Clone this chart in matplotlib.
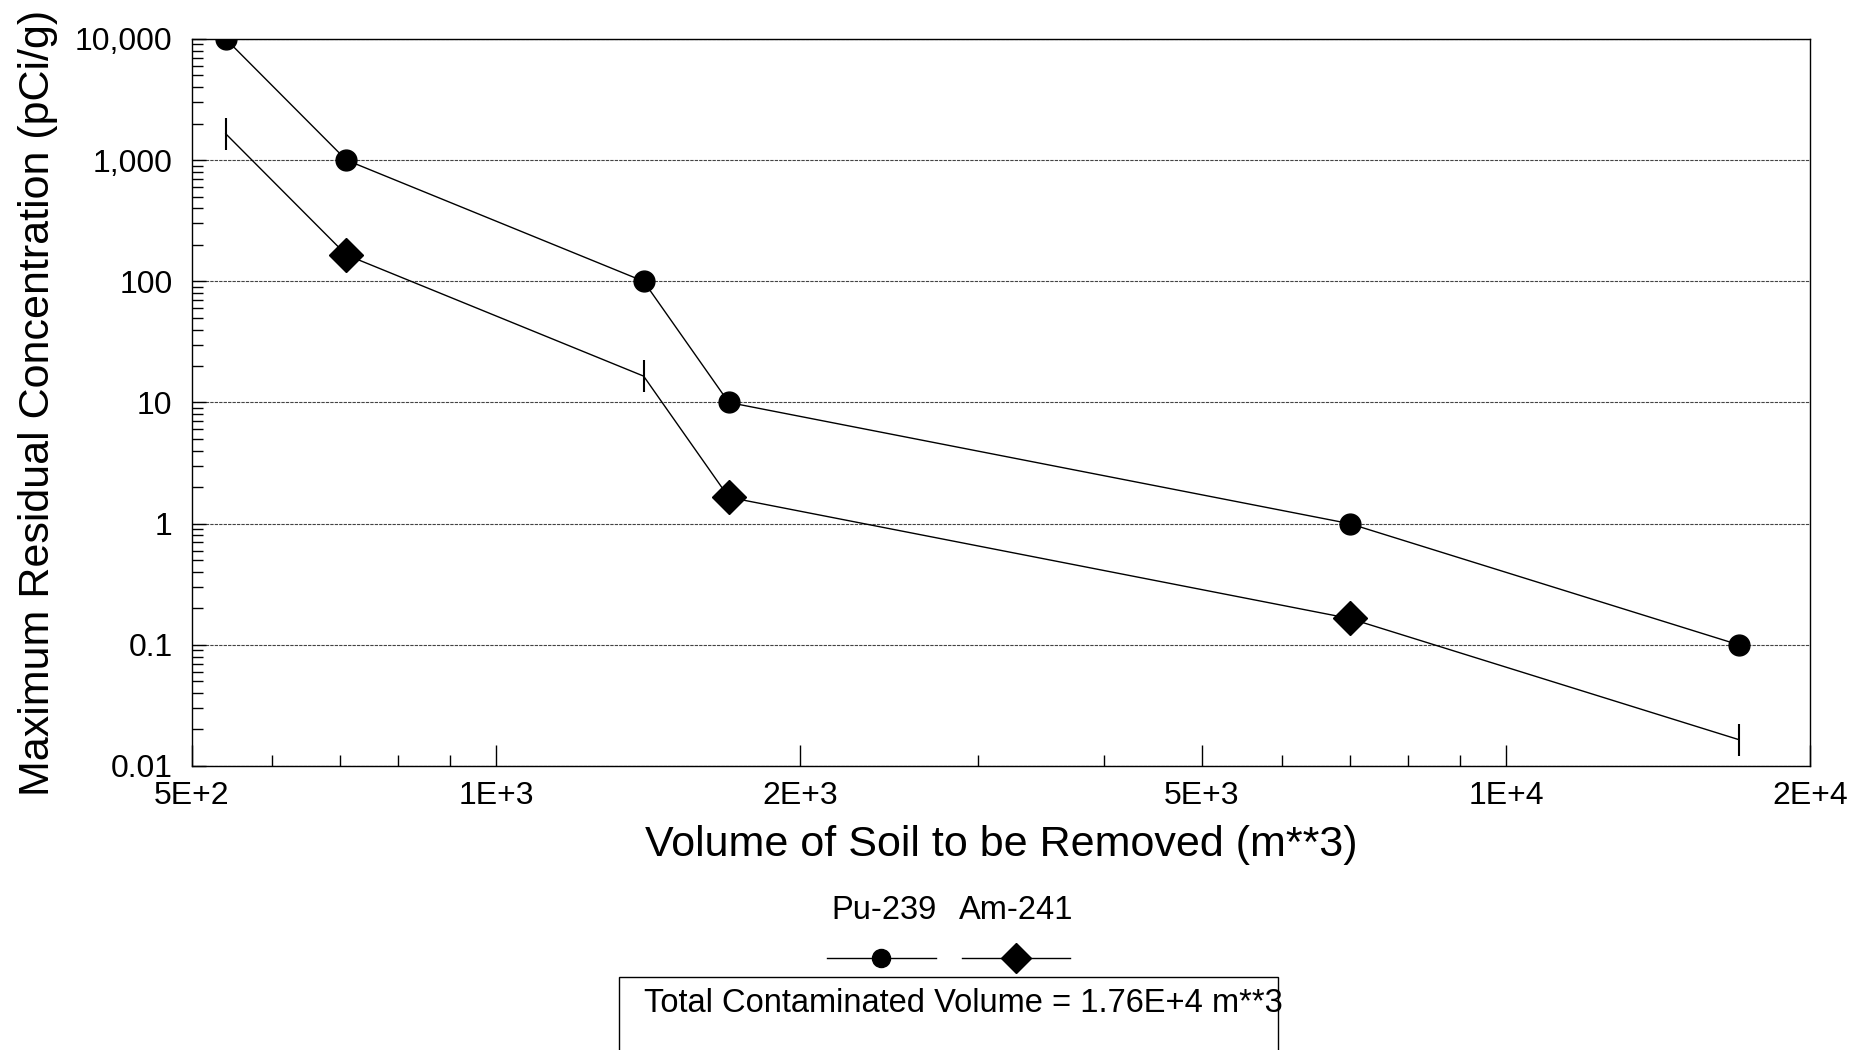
import matplotlib
matplotlib.use('Agg')
import matplotlib.pyplot as plt
from matplotlib.lines import Line2D
from matplotlib.patches import Rectangle
from matplotlib.ticker import FixedLocator, FixedFormatter, NullFormatter

plt.rcParams['font.family'] = ['Liberation Sans', 'DejaVu Sans']

# data
volume = [540, 711, 1400, 1700, 7000, 17000]
pu239 = [10000, 1000, 100, 10, 1, 0.1]
am241 = [1650, 165, 16.5, 1.65, 0.165, 0.0165]
am_markers = ['|', 'D', '|', 'D', 'D', '|']

x_ticks = [500, 1000, 2000, 5000, 10000, 20000]
x_labels = ['5E+2', '1E+3', '2E+3', '5E+3', '1E+4', '2E+4']
x_minor = [600, 700, 800, 900, 3000, 4000, 6000, 7000, 8000, 9000]
y_ticks = [0.01, 0.1, 1, 10, 100, 1000, 10000]
y_labels = ['0.01', '0.1', '1', '10', '100', '1,000', '10,000']

fig = plt.figure(figsize=(18.73, 10.5), dpi=100)
ax = fig.add_axes([0.1025, 0.2705, 0.8639, 0.6924])
ax.set_xscale('log')
ax.set_yscale('log')
ax.set_xlim(500, 20000)
ax.set_ylim(0.01, 10000)

# Pu-239
ax.plot(volume, pu239, color='black', lw=1.0, marker='o', markersize=15, zorder=3)

# Am-241 line, then markers one by one
ax.plot(volume, am241, color='black', lw=1.0, zorder=3)
for xv, yv, m in zip(volume, am241, am_markers):
    if m == '|':
        ax.plot([xv], [yv], marker='|', markersize=23, mew=1.5, color='black', zorder=3)
    else:
        ax.plot([xv], [yv], marker='D', markersize=17, color='black', zorder=3)

# gridlines at each decade
for yv in y_ticks:
    ax.axhline(yv, color='#444444', lw=0.8, ls=(0, (3, 1)), zorder=1)

ax.xaxis.set_major_locator(FixedLocator(x_ticks))
ax.xaxis.set_major_formatter(FixedFormatter(x_labels))
ax.xaxis.set_minor_locator(FixedLocator(x_minor))
ax.xaxis.set_minor_formatter(NullFormatter())
ax.yaxis.set_major_locator(FixedLocator(y_ticks))
ax.yaxis.set_major_formatter(FixedFormatter(y_labels))
ax.yaxis.set_minor_locator(FixedLocator([m * 10.0 ** e for e in range(-2, 4) for m in range(2, 10)]))
ax.yaxis.set_minor_formatter(NullFormatter())

ax.tick_params(axis='both', which='both', direction='in', top=False, right=False, color='black')
ax.tick_params(axis='x', which='major', length=15, width=1, pad=11, labelsize=23)
ax.tick_params(axis='x', which='minor', length=8, width=1)
ax.tick_params(axis='y', which='major', length=10, width=1, pad=14, labelsize=23)
ax.tick_params(axis='y', which='minor', length=8, width=1)
for s in ax.spines.values():
    s.set_linewidth(1.0)

ax.set_xlabel('Volume of Soil to be Removed (m**3)', fontsize=31, labelpad=10)
ax.set_ylabel('Maximum Residual Concentration (pCi/g)', fontsize=31, labelpad=12)

# legend drawn below the axes: labels on top, samples underneath
fig.text(0.472, 0.133, 'Pu-239', fontsize=23.5, ha='center', va='center')
fig.text(0.5427, 0.133, 'Am-241', fontsize=23.5, ha='center', va='center')
fig.add_artist(Line2D([0.4415, 0.4995], [0.0875, 0.0875], color='black', lw=1.0))
fig.add_artist(Line2D([0.4705], [0.0875], color='black', marker='o', markersize=13))
fig.add_artist(Line2D([0.5135, 0.5715], [0.0875, 0.0875], color='black', lw=1.0))
fig.add_artist(Line2D([0.5425], [0.0875], color='black', marker='D', markersize=15))

fig.add_artist(Rectangle((0.3305, -0.05), 0.352, 0.1195, transform=fig.transFigure,
                         fill=False, edgecolor='black', lw=1.0))
fig.text(0.344, 0.044, 'Total Contaminated Volume = 1.76E+4 m**3', fontsize=23.5,
         ha='left', va='center')

fig.savefig('out.png', dpi=100)
